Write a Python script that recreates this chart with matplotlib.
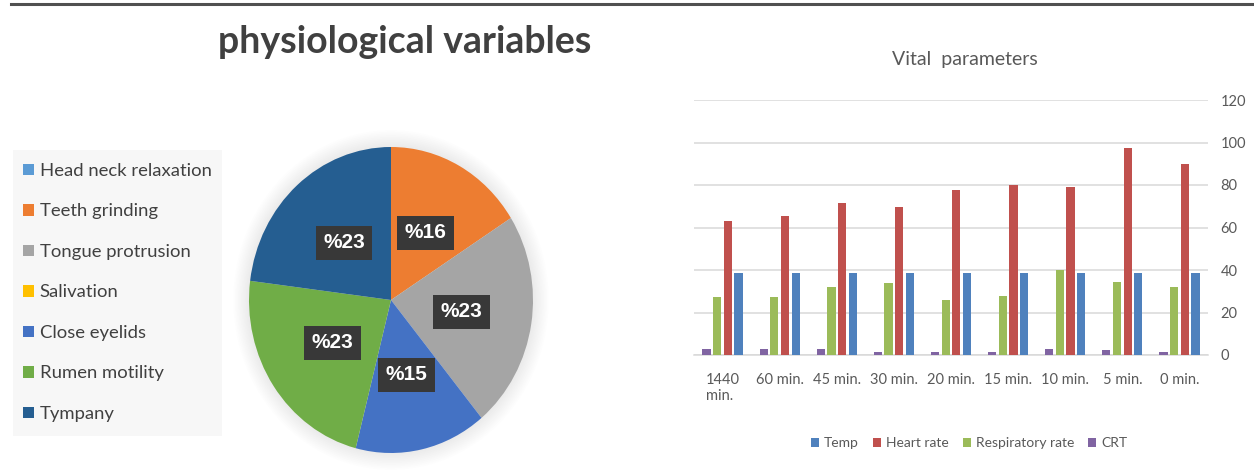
import matplotlib
matplotlib.use("Agg")
import matplotlib.pyplot as plt
from matplotlib.patches import Patch, Rectangle, Ellipse
from matplotlib.lines import Line2D
import numpy as np

# ---------------- data ----------------
pie_labels = ["Head neck relaxation", "Teeth grinding", "Tongue protrusion",
              "Salivation", "Close eyelids", "Rumen motility", "Tympany"]
pie_values = [0, 16, 23, 0, 15, 23, 23]
pie_colors = ["#5b9bd5", "#ed7d31", "#a5a5a5", "#ffc000", "#4472c4", "#70ad47", "#255e91"]

categories = ["1440\nmin.", "60 min.", "45 min.", "30 min.", "20 min.",
              "15 min.", "10 min.", "5 min.", "0 min."]
temp = [38.5, 38.5, 38.5, 38.5, 38.5, 38.5, 38.5, 38.5, 38.5]
heart_rate = [63, 65.5, 71.5, 69.5, 77.5, 80, 79, 97.5, 90]
resp_rate = [27.5, 27.5, 32, 34, 26, 28, 40, 34.5, 32]
crt = [3, 3, 3, 1.6, 1.6, 1.6, 3, 2.2, 1.6]
yticks = [0, 20, 40, 60, 80, 100, 120]

bar_series = [("Temp", temp, "#4f81bd"),
              ("Heart rate", heart_rate, "#c0504d"),
              ("Respiratory rate", resp_rate, "#9bbb59"),
              ("CRT", crt, "#8064a2")]

W, H = 1254, 474
fig = plt.figure(figsize=(W / 100, H / 100), dpi=100)
fig.patch.set_facecolor("white")
FONT = ["Lato", "DejaVu Sans"]


def fx(px):
    return px / W


def fy(py):
    return 1 - py / H


# top rule
fig.add_artist(Line2D([fx(11), 1.0], [fy(4), fy(4)], color="#505050", lw=2.2,
                      transform=fig.transFigure))

# ---------------- left title ----------------
fig.text(fx(405), fy(42), "physiological variables", ha="center", va="center",
         fontsize=27, fontweight="bold", color="#404040", family=FONT)

# ---------------- pie ----------------
pax = fig.add_axes([fx(249), fy(453), (533 - 249) / W, (453 - 147) / H])
for k in range(1, 11):
    s = 1 + 0.011 * k
    pax.add_patch(Ellipse((0, 0.0), 2 * s, 2 * s, facecolor="#b0b0b0",
                          alpha=0.02, edgecolor="none", zorder=0, clip_on=False))
wedges, _, autotexts = pax.pie(
    pie_values, colors=pie_colors, startangle=90, counterclock=False,
    autopct=lambda p: f"%{p:.0f}" if p > 0 else "", pctdistance=0.5,
    wedgeprops=dict(linewidth=0, edgecolor="none"))
for w in wedges:
    w.set_zorder(2)
for t in autotexts:
    t.set_color("white")
    t.set_fontsize(15)
    t.set_fontweight("bold")
    t.set_family(["Liberation Sans", "DejaVu Sans"])
    t.set_zorder(5)
    if t.get_text():
        t.set_bbox(dict(boxstyle="square,pad=0.36", facecolor="#383838",
                        edgecolor="none"))
pax.set_aspect("auto")
pax.set_xlim(-1, 1)
pax.set_ylim(-1, 1)
pax.axis("off")

# left legend with light background
fig.add_artist(Rectangle((fx(13), fy(436)), (222 - 13) / W, (436 - 150) / H,
                         transform=fig.transFigure, facecolor="#f7f7f7",
                         edgecolor="none", zorder=0))
handles = [Patch(facecolor=c, edgecolor="none") for c in pie_colors]
leg1 = fig.legend(handles, pie_labels, loc="upper left",
                  bbox_to_anchor=(fx(23), fy(163)), frameon=False,
                  prop=dict(family=FONT, size=13.3), labelcolor="#404040",
                  handlelength=0.58, handleheight=0.58, handletextpad=0.32,
                  labelspacing=1.325, borderpad=0, borderaxespad=0)

# ---------------- bar chart ----------------
bax = fig.add_axes([fx(694), fy(355), (1208 - 694) / W, (355 - 100) / H])
x = np.arange(len(categories))
bw = 0.145
step = 0.187
draw_order = [3, 2, 1, 0]  # CRT, Resp, Heart, Temp left to right
for i, idx in enumerate(draw_order):
    name, vals, col = bar_series[idx]
    bax.bar(x + (i - 1.5) * step, vals, width=bw, color=col, zorder=3)
bax.set_xlim(-0.5, len(categories) - 0.5)
bax.set_ylim(0, 120)
bax.set_yticks(yticks)
bax.yaxis.tick_right()
bax.grid(axis="y", color="#d9d9d9", lw=1.1, zorder=0)
for s in ["top", "left", "right"]:
    bax.spines[s].set_visible(False)
bax.spines["bottom"].set_color("#d9d9d9")
bax.spines["bottom"].set_linewidth(1.1)
bax.set_xticks(x)
bax.set_xticklabels(categories, multialignment="left")
bax.tick_params(axis="both", length=0, labelsize=10.5, labelcolor="#595959")
bax.tick_params(axis="x", pad=13)
bax.tick_params(axis="y", pad=9)
for lab in bax.get_xticklabels() + bax.get_yticklabels():
    lab.set_family(FONT)
for lab in bax.get_xticklabels():
    lab.set_verticalalignment("top")

fig.text(fx(965), fy(60), "Vital  parameters", ha="center", va="center",
         fontsize=14, color="#595959", family=FONT)

bh = [Patch(facecolor=c, edgecolor="none") for _, _, c in bar_series]
fig.legend(bh, [n for n, _, _ in bar_series], loc="center",
           bbox_to_anchor=(fx(969), fy(443)), ncol=4, frameon=False,
           prop=dict(family=FONT, size=10), labelcolor="#595959",
           handlelength=0.6, handleheight=0.6, handletextpad=0.35,
           columnspacing=1.0, borderpad=0)

fig.savefig("out.png", dpi=100)
